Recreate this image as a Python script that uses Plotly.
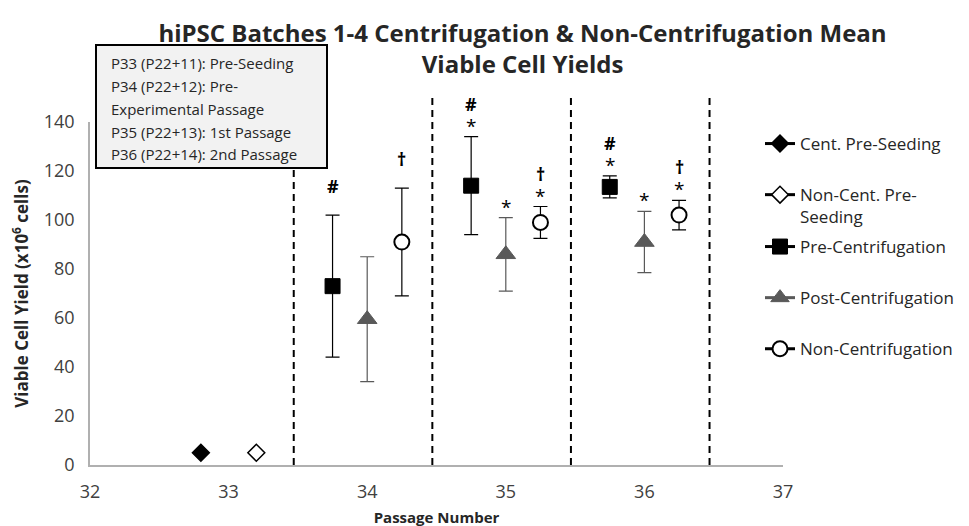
import plotly.graph_objects as go

# ---- data ----
cent_pre_x = [32.8]
cent_pre_y = [5]
noncent_pre_x = [33.2]
noncent_pre_y = [5]

pre_x = [33.75, 34.75, 35.75]
pre_y = [73, 114, 113.5]
pre_err = [29, 20, 4.5]

post_x = [34.0, 35.0, 36.0]
post_y = [59.5, 86, 91]
post_err = [25.5, 15, 12.5]

non_x = [34.25, 35.25, 36.25]
non_y = [91, 99, 102]
non_err = [22, 6.5, 6]

# significance marks (lower row, upper row) per point
pre_low = ["", "*", "*"]
pre_high = ["#", "#", "#"]
post_low = ["", "*", "*"]
post_high = ["", "", ""]
non_low = ["", "*", "*"]
non_high = ["\u2020", "\u2020", "\u2020"]

divider_x = [33.47, 34.47, 35.47, 36.47]

x_ticks = [32, 33, 34, 35, 36, 37]
y_ticks = [0, 20, 40, 60, 80, 100, 120, 140]

legend_names = ["Cent. Pre-Seeding", "Non-Cent. Pre-<br>Seeding", "Pre-Centrifugation",
                "Post-Centrifugation", "Non-Centrifugation"]

box_lines = ["P33 (P22+11): Pre-Seeding", "P34 (P22+12): Pre-", "Experimental Passage",
             "P35 (P22+13): 1st Passage", "P36 (P22+14): 2nd Passage"]

FONT = "Open Sans"
GRAY = "#595959"
TXT = "#262626"

# plot area in page pixels
PL, PR, PT, PB = 90, 783, 122, 465


def px(xp):
    return (xp - PL) / (PR - PL)


def py(yp):
    return (PB - yp) / (PB - PT)


fig = go.Figure()


def err(arr, color):
    return dict(type="data", array=arr, visible=True, color=color, thickness=1.2, width=7)


styles = [
    dict(symbol="diamond", size=13, color="black", line=dict(color="black", width=1.5)),
    dict(symbol="diamond", size=13, color="white", line=dict(color="black", width=1.5)),
    dict(symbol="square", size=15, color="black", line=dict(color="black", width=1)),
    dict(symbol="triangle-up", size=17, color=GRAY, line=dict(color=GRAY, width=1)),
    dict(symbol="circle", size=15, color="white", line=dict(color="black", width=2)),
]
line_colors = ["black", "black", "black", GRAY, "black"]

fig.add_trace(go.Scatter(x=cent_pre_x, y=cent_pre_y, mode="markers", marker=styles[0],
                         showlegend=False))
fig.add_trace(go.Scatter(x=noncent_pre_x, y=noncent_pre_y, mode="markers", marker=styles[1],
                         showlegend=False))
fig.add_trace(go.Scatter(x=pre_x, y=pre_y, mode="markers", marker=styles[2],
                         error_y=err(pre_err, "black"), showlegend=False))
fig.add_trace(go.Scatter(x=post_x, y=post_y, mode="markers", marker=styles[3],
                         error_y=err(post_err, GRAY), showlegend=False))
fig.add_trace(go.Scatter(x=non_x, y=non_y, mode="markers", marker=styles[4],
                         error_y=err(non_err, "black"), showlegend=False))

# legend-only entries (line + marker, Excel style)
for i, name in enumerate(legend_names):
    fig.add_trace(go.Scatter(x=[None], y=[None], mode="lines+markers", name=name,
                             marker=styles[i], line=dict(color=line_colors[i], width=3),
                             legendgroup=str(i), legend="legend" if i < 2 else "legend2"))

# significance annotations
annos = []
for xs, ys, es, lows, highs in [(pre_x, pre_y, pre_err, pre_low, pre_high),
                                (post_x, post_y, post_err, post_low, post_high),
                                (non_x, non_y, non_err, non_low, non_high)]:
    for xv, yv, ev, lo, hi in zip(xs, ys, es, lows, highs):
        top = yv + ev
        if lo:
            annos.append(dict(x=xv, y=top, xref="x", yref="y", text=lo, showarrow=False,
                              yanchor="middle", yshift=11, height=16, borderpad=0,
                              font=dict(family=FONT, size=19, color="black")))
        if hi:
            annos.append(dict(x=xv, y=top, xref="x", yref="y", text="<b>%s</b>" % hi,
                              showarrow=False, yanchor="middle", height=16, borderpad=0,
                              yshift=33 if lo else 29,
                              font=dict(family=FONT, size=18, color="black")))

# info box
box_y = [63, 86, 109, 132, 154]
for txt, yp in zip(box_lines, box_y):
    annos.append(dict(x=px(109), y=py(yp), xref="paper", yref="paper", xanchor="left",
                      yanchor="middle", text=txt, showarrow=False,
                      font=dict(family=FONT, size=15, color=TXT)))

shapes = []
# divider dashed lines (extend above the plot top)
for dx in divider_x:
    shapes.append(dict(type="line", xref="x", yref="paper", x0=dx, x1=dx, y0=0, y1=py(97),
                       line=dict(color="black", width=2, dash="7px,5px"), layer="below"))
shapes.append(dict(type="rect", xref="paper", yref="paper", x0=px(96), x1=px(327),
                   y0=py(168), y1=py(45), fillcolor="#f2f2f2",
                   line=dict(color="black", width=2), layer="above"))

fig.update_layout(
    width=969, height=526,
    margin=dict(l=82, r=194, t=114, b=69, autoexpand=False),
    paper_bgcolor="white", plot_bgcolor="white",
    font=dict(family=FONT, color=TXT),
    title=dict(text="<b>hiPSC Batches 1-4 Centrifugation &amp; Non-Centrifugation Mean<br>Viable Cell Yields</b>",
               x=0.531, xanchor="center", y=0.935, yanchor="top",
               font=dict(family=FONT, size=24, color=TXT)),
    xaxis=dict(range=[32, 37], tickvals=x_ticks, showgrid=False, zeroline=False,
               showline=True, linecolor="#b0b0b0", linewidth=1.5, ticks="",
               ticklabelstandoff=10,
               tickfont=dict(family=FONT, size=18, color="#404040"),
               title=dict(text="<b>Passage Number</b>", standoff=10,
                          font=dict(family=FONT, size=15, color=TXT))),
    yaxis=dict(range=[0, 140], tickvals=y_ticks, showgrid=False, zeroline=False,
               showline=True, linecolor="#b0b0b0", linewidth=1.5, ticks="",
               ticklabelstandoff=10,
               tickfont=dict(family=FONT, size=18, color="#404040"),
               title=dict(text="<b>Viable Cell Yield (x10<sup>6</sup> cells)</b>", standoff=12,
                          font=dict(family=FONT, size=17, color=TXT))),
    legend=dict(x=px(760), xanchor="left", y=py(126), yanchor="top", valign="top",
                tracegroupgap=26, itemwidth=30,
                font=dict(family=FONT, size=17, color=TXT),
                bgcolor="rgba(0,0,0,0)"),
    legend2=dict(x=px(760), xanchor="left", y=py(229), yanchor="top", valign="top",
                 tracegroupgap=26, itemwidth=30,
                 font=dict(family=FONT, size=17, color=TXT),
                 bgcolor="rgba(0,0,0,0)"),
    annotations=annos,
    shapes=shapes,
)

fig.write_html("out.html")
